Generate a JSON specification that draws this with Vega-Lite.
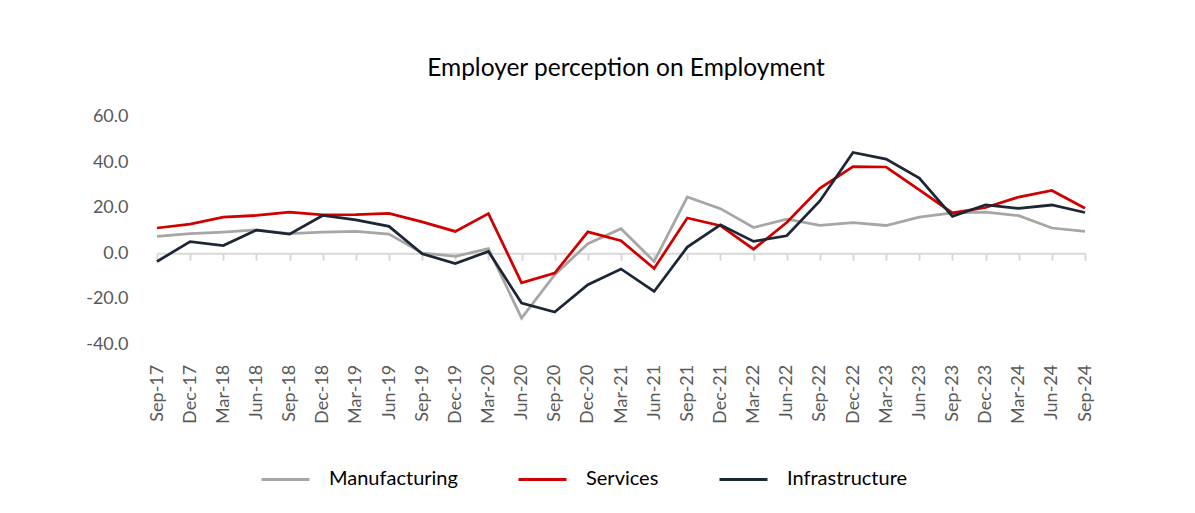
{
  "$schema": "https://vega.github.io/schema/vega-lite/v6.json",
  "autosize": {"type": "none"},
  "width": 928,
  "height": 227.6,
  "padding": {"left": 157, "top": 116.7, "right": 110, "bottom": 168.7},
  "background": "white",
  "config": {"font": "Lato", "view": {"stroke": null}},
  "title": {"text": "Employer perception on Employment", "fontSize": 24.5, "fontWeight": "normal", "color": "#000000", "anchor": "middle", "offset": 26, "dx": 5, "font": "Lato"},
  "data": {"values": [
    {"d":"Sep-17","s":"Manufacturing","v":7.4},{"d":"Dec-17","s":"Manufacturing","v":8.6},{"d":"Mar-18","s":"Manufacturing","v":9.3},{"d":"Jun-18","s":"Manufacturing","v":10.3},{"d":"Sep-18","s":"Manufacturing","v":8.6},{"d":"Dec-18","s":"Manufacturing","v":9.3},{"d":"Mar-19","s":"Manufacturing","v":9.6},{"d":"Jun-19","s":"Manufacturing","v":8.4},{"d":"Sep-19","s":"Manufacturing","v":0.1},{"d":"Dec-19","s":"Manufacturing","v":-1.4},{"d":"Mar-20","s":"Manufacturing","v":2.0},{"d":"Jun-20","s":"Manufacturing","v":-28.5},{"d":"Sep-20","s":"Manufacturing","v":-9.4},{"d":"Dec-20","s":"Manufacturing","v":4.2},{"d":"Mar-21","s":"Manufacturing","v":10.8},{"d":"Jun-21","s":"Manufacturing","v":-3.6},{"d":"Sep-21","s":"Manufacturing","v":24.7},{"d":"Dec-21","s":"Manufacturing","v":19.6},{"d":"Mar-22","s":"Manufacturing","v":11.3},{"d":"Jun-22","s":"Manufacturing","v":15.0},{"d":"Sep-22","s":"Manufacturing","v":12.3},{"d":"Dec-22","s":"Manufacturing","v":13.5},{"d":"Mar-23","s":"Manufacturing","v":12.2},{"d":"Jun-23","s":"Manufacturing","v":15.9},{"d":"Sep-23","s":"Manufacturing","v":17.7},{"d":"Dec-23","s":"Manufacturing","v":18.1},{"d":"Mar-24","s":"Manufacturing","v":16.5},{"d":"Jun-24","s":"Manufacturing","v":11.1},{"d":"Sep-24","s":"Manufacturing","v":9.6},
    {"d":"Sep-17","s":"Services","v":11.1},{"d":"Dec-17","s":"Services","v":12.8},{"d":"Mar-18","s":"Services","v":15.9},{"d":"Jun-18","s":"Services","v":16.6},{"d":"Sep-18","s":"Services","v":18.1},{"d":"Dec-18","s":"Services","v":16.9},{"d":"Mar-19","s":"Services","v":17.0},{"d":"Jun-19","s":"Services","v":17.5},{"d":"Sep-19","s":"Services","v":13.8},{"d":"Dec-19","s":"Services","v":9.6},{"d":"Mar-20","s":"Services","v":17.4},{"d":"Jun-20","s":"Services","v":-13.0},{"d":"Sep-20","s":"Services","v":-8.7},{"d":"Dec-20","s":"Services","v":9.4},{"d":"Mar-21","s":"Services","v":5.5},{"d":"Jun-21","s":"Services","v":-6.7},{"d":"Sep-21","s":"Services","v":15.5},{"d":"Dec-21","s":"Services","v":12.1},{"d":"Mar-22","s":"Services","v":1.8},{"d":"Jun-22","s":"Services","v":13.5},{"d":"Sep-22","s":"Services","v":28.5},{"d":"Dec-22","s":"Services","v":38.1},{"d":"Mar-23","s":"Services","v":37.9},{"d":"Jun-23","s":"Services","v":27.9},{"d":"Sep-23","s":"Services","v":17.7},{"d":"Dec-23","s":"Services","v":20.1},{"d":"Mar-24","s":"Services","v":24.7},{"d":"Jun-24","s":"Services","v":27.6},{"d":"Sep-24","s":"Services","v":19.8},
    {"d":"Sep-17","s":"Infrastructure","v":-3.6},{"d":"Dec-17","s":"Infrastructure","v":5.1},{"d":"Mar-18","s":"Infrastructure","v":3.4},{"d":"Jun-18","s":"Infrastructure","v":10.2},{"d":"Sep-18","s":"Infrastructure","v":8.4},{"d":"Dec-18","s":"Infrastructure","v":16.6},{"d":"Mar-19","s":"Infrastructure","v":14.7},{"d":"Jun-19","s":"Infrastructure","v":11.8},{"d":"Sep-19","s":"Infrastructure","v":-0.2},{"d":"Dec-19","s":"Infrastructure","v":-4.5},{"d":"Mar-20","s":"Infrastructure","v":0.8},{"d":"Jun-20","s":"Infrastructure","v":-21.9},{"d":"Sep-20","s":"Infrastructure","v":-25.8},{"d":"Dec-20","s":"Infrastructure","v":-13.8},{"d":"Mar-21","s":"Infrastructure","v":-6.9},{"d":"Jun-21","s":"Infrastructure","v":-16.8},{"d":"Sep-21","s":"Infrastructure","v":2.7},{"d":"Dec-21","s":"Infrastructure","v":12.5},{"d":"Mar-22","s":"Infrastructure","v":5.2},{"d":"Jun-22","s":"Infrastructure","v":7.7},{"d":"Sep-22","s":"Infrastructure","v":23.0},{"d":"Dec-22","s":"Infrastructure","v":44.3},{"d":"Mar-23","s":"Infrastructure","v":41.4},{"d":"Jun-23","s":"Infrastructure","v":33.0},{"d":"Sep-23","s":"Infrastructure","v":16.2},{"d":"Dec-23","s":"Infrastructure","v":21.3},{"d":"Mar-24","s":"Infrastructure","v":19.7},{"d":"Jun-24","s":"Infrastructure","v":21.2},{"d":"Sep-24","s":"Infrastructure","v":17.9}
  ]},
  "layer": [
    {
      "mark": {"type": "line", "opacity": 0},
      "encoding": {
        "x": {"field": "d", "type": "ordinal", "sort": null,
          "scale": {"type": "point", "padding": 0},
          "axis": {"orient": "bottom", "labels": false, "title": null, "domain": true, "domainColor": "#D9D9D9", "domainWidth": 2, "ticks": true, "tickColor": "#D9D9D9", "tickWidth": 2, "tickSize": 7, "offset": -91.04, "grid": false}},
        "y": {"field": "v", "type": "quantitative",
          "scale": {"domain": [-40, 60], "nice": false, "zero": false},
          "axis": {"values": [-40, -20, 0, 20, 40, 60], "labelExpr": "replace(format(datum.value, '.1f'), '\u2212', '-')", "title": null, "domain": false, "ticks": false, "grid": false, "labelFontSize": 18, "labelColor": "#595959", "labelPadding": 29, "labelFont": "Lato"}},
        "detail": {"field": "s"}
      }
    },
    {
      "mark": {"type": "line", "strokeWidth": 2.75},
      "encoding": {
        "x": {"field": "d", "type": "ordinal", "sort": null,
          "scale": {"type": "point", "padding": 0},
          "axis": {"orient": "bottom", "title": null, "domain": false, "ticks": false, "grid": false, "labelAngle": -90, "labelAlign": "right", "labelBaseline": "middle", "labelPadding": 20, "labelFontSize": 18, "labelColor": "#595959", "labelFont": "Lato"}},
        "y": {"field": "v", "type": "quantitative"},
        "color": {"field": "s", "type": "nominal",
          "scale": {"domain": ["Manufacturing", "Services", "Infrastructure"], "range": ["#A6A6A6", "#D00000", "#1C2634"]},
          "legend": {"orient": "none", "legendX": 103, "legendY": 337, "direction": "horizontal", "title": null, "symbolType": "stroke", "symbolSize": 2300, "symbolStrokeWidth": 3, "labelFontSize": 20, "labelColor": "#000000", "labelOffset": 18, "columnPadding": 54, "labelFont": "Lato"}}
      }
    }
  ],
  "resolve": {"axis": {"x": "independent"}}
}
